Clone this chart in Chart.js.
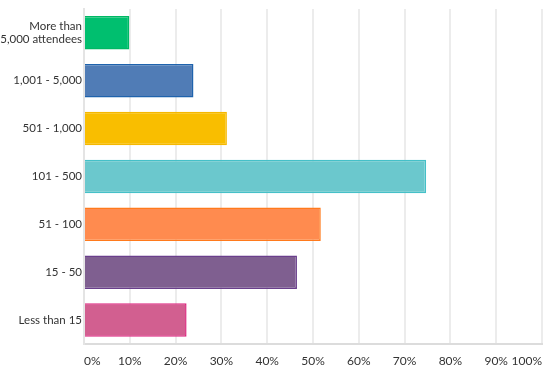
<!DOCTYPE html>
<html>
<head>
<meta charset="utf-8">
<script src="https://cdn.jsdelivr.net/npm/chart.js@4/dist/chart.umd.min.js"></script>
<style>
  html, body { margin: 0; padding: 0; background: #fff; }
  #wrap { width: 552px; height: 374px; }
</style>
</head>
<body>
<div id="wrap"><canvas id="sizeChart"></canvas></div>
<script>
const categories = [
  ["More than", "5,000 attendees"],
  "1,001 - 5,000",
  "501 - 1,000",
  "101 - 500",
  "51 - 100",
  "15 - 50",
  "Less than 15"
];
const percents = [9.9, 23.9, 31.2, 74.7, 51.7, 46.5, 22.4];
const fillColors = ["#00bf6f", "#507cb6", "#f9be00", "#6bc8cd", "#ff8b4f", "#7f5f90", "#d25f90"];
const edgeColors = ["#00b864", "#1f63ad", "#f5b800", "#45c0c8", "#ff7a1c", "#6a3f8c", "#dc2a80"];

const ctx = document.getElementById("sizeChart");

new Chart(ctx, {
  type: "bar",
  data: {
    labels: categories,
    datasets: [{
      data: percents,
      backgroundColor: fillColors,
      borderColor: edgeColors,
      borderWidth: 1.5,
      barPercentage: 0.7,
      categoryPercentage: 1.0,
    }],
  },
  options: {
    indexAxis: "y",
    responsive: true,
    maintainAspectRatio: false,
    animation: false,
    layout: { padding: { top: 8, right: 10, left: 0, bottom: 0 } },
    plugins: {
      legend: { display: false },
      tooltip: { enabled: false },
    },
    scales: {
      x: {
        min: 0,
        max: 100,
        ticks: {
          stepSize: 10,
          padding: 10,
          align: "inner",
          maxRotation: 0,
          color: "#333",
          font: { family: "Lato", size: 12 },
          callback: v => v + "%",
        },
        grid: { color: "#ececec", lineWidth: 2, drawTicks: false },
        border: { color: "#dcdcdc", width: 2 },
        afterFit: s => { s.height = 30; },
      },
      y: {
        ticks: {
          padding: 2,
          color: "#333",
          font: { family: "Lato", size: 11.5 },
        },
        grid: { display: false, drawTicks: false },
        border: { color: "#e4e4e4", width: 2 },
        afterFit: s => { s.width = 84; },
      },
    },
  },
});
</script>
</body>
</html>
